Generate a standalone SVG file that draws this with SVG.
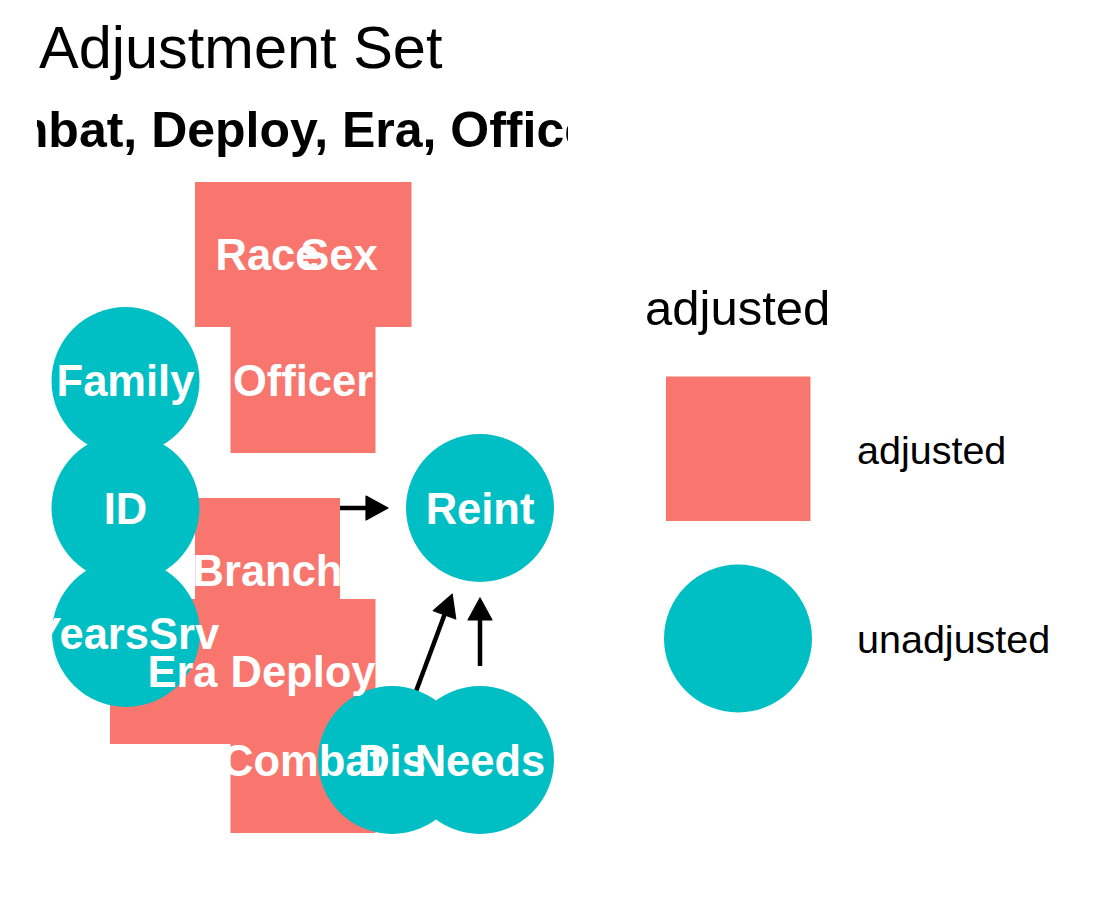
<svg xmlns="http://www.w3.org/2000/svg" width="1103" height="899" viewBox="0 0 1103 899">
<style>
.sq{fill:#F8766D}
.ci{fill:#00BFC4}
.lbl{font-family:"Liberation Sans",Arial,Helvetica,sans-serif;font-weight:bold;font-size:43.5px;fill:#fff;text-anchor:middle}
.edge{stroke:#000;stroke-width:4.5;fill:none}
.txt{font-family:"Liberation Sans",Arial,Helvetica,sans-serif;fill:#000}
</style>
<defs>
<marker id="arr" markerUnits="userSpaceOnUse" viewBox="-1 -14 25 28" markerWidth="25" markerHeight="28" refX="0" refY="0" orient="auto">
<path d="M0,-12 L22,0 L0,12 Z" fill="#000" stroke="#000" stroke-width="1.2" stroke-linejoin="round"/>
</marker>
<clipPath id="strip"><rect x="37" y="90" width="531" height="80"/></clipPath>
</defs>
<rect width="1103" height="899" fill="#fff"/>
<text class="txt" x="39" y="68" font-size="59.5">Adjustment Set</text>
<text class="txt" x="305" y="147" font-size="50" font-weight="bold" text-anchor="middle" clip-path="url(#strip)">{Branch, Combat, Deploy, Era, Officer, Race, Sex}</text>
<g id="edges">
<line class="edge" x1="217" y1="508" x2="366" y2="508" marker-end="url(#arr)"/>
<line class="edge" x1="415" y1="694" x2="444.5" y2="614.8" marker-end="url(#arr)"/>
<line class="edge" x1="480" y1="666" x2="480" y2="620" marker-end="url(#arr)"/>
</g>
<g id="shapes">
<rect id="Branch-shape" class="sq" x="195" y="498" width="145" height="145"/>
<rect id="Combat-shape" class="sq" x="230.5" y="688" width="145" height="145"/>
<rect id="Deploy-shape" class="sq" x="230.5" y="599" width="145" height="145"/>
<circle id="Dis-shape" class="ci" cx="392" cy="760" r="74"/>
<rect id="Era-shape" class="sq" x="110" y="599" width="145" height="145"/>
<circle id="Family-shape" class="ci" cx="125.5" cy="381" r="74"/>
<circle id="ID-shape" class="ci" cx="125.5" cy="508" r="74"/>
<circle id="Needs-shape" class="ci" cx="480" cy="760" r="74"/>
<rect id="Officer-shape" class="sq" x="230.5" y="308" width="145" height="145"/>
<rect id="Race-shape" class="sq" x="195" y="182" width="145" height="145"/>
<circle id="Reint-shape" class="ci" cx="480" cy="508" r="74"/>
<rect id="Sex-shape" class="sq" x="266.5" y="182" width="145" height="145"/>
<circle id="YearsSrv-shape" class="ci" cx="126" cy="633" r="74"/>
</g>
<g id="labels">
<text id="Branch" class="lbl" x="267.5" y="586">Branch</text>
<text id="Combat" class="lbl" x="303" y="775.5">Combat</text>
<text id="Deploy" class="lbl" x="303" y="687">Deploy</text>
<text id="Dis" class="lbl" x="392" y="776">Dis</text>
<text id="Era" class="lbl" x="182.5" y="687">Era</text>
<text id="Family" class="lbl" x="125.5" y="396">Family</text>
<text id="ID" class="lbl" x="125.5" y="523.5">ID</text>
<text id="Needs" class="lbl" x="480" y="776">Needs</text>
<text id="Officer" class="lbl" x="303" y="396">Officer</text>
<text id="Race" class="lbl" x="267.5" y="270">Race</text>
<text id="Reint" class="lbl" x="480" y="523.5">Reint</text>
<text id="Sex" class="lbl" x="339" y="270">Sex</text>
<text id="YearsSrv" class="lbl" x="126" y="648.5">YearsSrv</text>
</g>
<g id="legend">
<text class="txt" x="645" y="325" font-size="49">adjusted</text>
<rect class="sq" x="666" y="376.5" width="144.5" height="144.5"/>
<circle class="ci" cx="738" cy="638.5" r="74"/>
<text class="txt" x="857" y="464" font-size="39.5">adjusted</text>
<text class="txt" x="857" y="653" font-size="39.5">unadjusted</text>
</g>
</svg>
